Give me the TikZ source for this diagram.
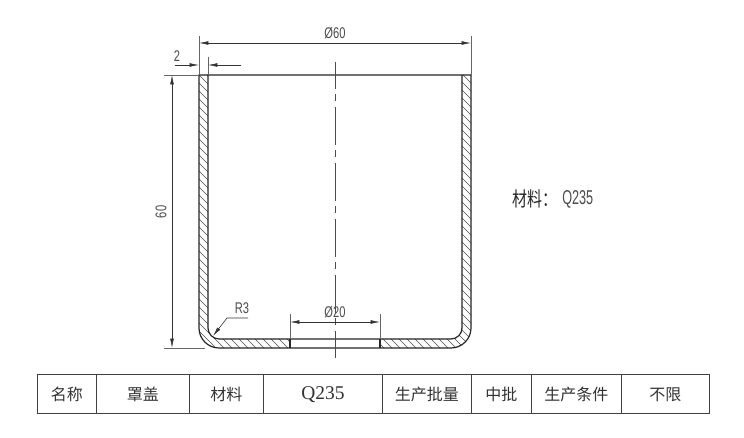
\documentclass[tikz,border=0pt]{standalone}
\usepackage{fontspec}
\usepackage{graphicx}
\setmainfont{Liberation Serif}
\newfontfamily\cjk{Noto Sans CJK SC}
\newfontfamily\cad{Liberation Sans}[FakeStretch=0.72]
\usetikzlibrary{arrows.meta}
\tikzset{
  x=0.75pt,y=-0.75pt,
  outline/.style={line width=0.9pt,black!85},
  thin line/.style={line width=0.45pt,black!80},
  dim/.style={thin line,{Latex[length=7pt,width=2.8pt]}-{Latex[length=7pt,width=2.8pt]}},
  dimout/.style={thin line,{Latex[length=7pt,width=2.8pt]}-},
  ext/.style={line width=0.55pt,black!60},
  center line/.style={line width=0.55pt,black!70,dash pattern=on 28.5pt off 4pt on 5pt off 4.5pt,dash phase=8.25pt},
  cell/.style={draw=black!75,line width=0.7pt,minimum height=29pt,inner sep=0pt,anchor=north west},
  cadtext/.style={font=\cad\fontsize{11.6pt}{12pt}\selectfont,text=black!70,inner sep=0pt},
  tabtext/.style={font=\cjk\fontsize{12pt}{13pt}\selectfont,text=black!80,inner sep=0pt}
}
\begin{document}
\begin{tikzpicture}
\useasboundingbox (0,0) rectangle (744,438);
\fill[white] (0,0) rectangle (744,438);
% hatched section
\begin{scope}
\clip (199,75) -- (199,328) .. controls (199,339) and (208,348) .. (219,348) -- (290,348) -- (290,339) -- (219,339) .. controls (213,339) and (208,334) .. (208,328) -- (208,75) -- cycle
      (471,75) -- (471,328) .. controls (471,339) and (462,348) .. (451,348) -- (380,348) -- (380,339) -- (451,339) .. controls (457,339) and (462,334) .. (462,328) -- (462,75) -- cycle;
  \foreach \k in {-320,-312,...,680} {
    \draw[line width=0.35pt,black!70] (\k+160,60) -- (\k+480,380);
  }
\end{scope}
% outlines
\draw[outline] (199,75) -- (199,328) .. controls (199,339) and (208,348) .. (219,348) -- (451,348) .. controls (462,348) and (471,339) .. (471,328) -- (471,75) -- cycle;
\draw[outline] (208,75) -- (208,328) .. controls (208,334) and (213,339) .. (219,339) -- (451,339) .. controls (457,339) and (462,334) .. (462,328) -- (462,75);
\draw[outline] (290,339) -- (290,348) (380,339) -- (380,348);
% centre line
\coordinate (ct) at (335,62); \coordinate (cb) at (335,358);
\draw[center line] (ct) -- (cb);
% extension lines
\coordinate (e1a) at (199,36); \coordinate (e1b) at (199,75);
\coordinate (e2a) at (471,36); \coordinate (e2b) at (471,75);
\coordinate (e3a) at (208,57); \coordinate (e3b) at (208,75);
\coordinate (e4a) at (164,75); \coordinate (e4b) at (199,75);
\coordinate (e5a) at (164,348); \coordinate (e5b) at (205,348);
\coordinate (e6a) at (290,314); \coordinate (e6b) at (290,339);
\coordinate (e7a) at (380,314); \coordinate (e7b) at (380,339);
\draw[ext] (e1a) -- (e1b) (e2a) -- (e2b) (e3a) -- (e3b) (e4a) -- (e4b) (e5a) -- (e5b) (e6a) -- (e6b) (e7a) -- (e7b);
% dimensions
\coordinate (d1a) at (199,43); \coordinate (d1b) at (471,43);
\draw[dim] (d1a) -- (d1b);
\node[cadtext] (t60d) at (335,33) {Ø60};
\coordinate (d2a) at (199,65); \coordinate (d2l) at (175,65);
\coordinate (d2b) at (208,65); \coordinate (d2r) at (241,65);
\draw[dimout] (d2a) -- (d2l);
\draw[dimout] (d2b) -- (d2r);
\node[cadtext] (t2) at (177,56) {2};
\coordinate (d3a) at (172,75); \coordinate (d3b) at (172,348);
\draw[dim] (d3a) -- (d3b);
\node[cadtext,rotate=90] (t60) at (161,212) {60};
\coordinate (d4a) at (290,322); \coordinate (d4b) at (380,322);
\draw[dim] (d4a) -- (d4b);
\node[cadtext] (t20) at (335,312) {Ø20};
\coordinate (l1) at (213,336); \coordinate (l2) at (227,318); \coordinate (l3) at (248,318);
\draw[thin line,{Latex[length=7pt,width=2.8pt]}-] (l1) -- (l2) -- (l3);
\node[cadtext] (tr3) at (242,308) {R3};
% material
\node[inner sep=0pt,anchor=west,text=black!85] (mat) at (512,199) {\scalebox{0.75}[1]{\cjk\fontsize{15pt}{16pt}\selectfont 材料：}};
\node[cadtext,anchor=west,font=\cad\fontsize{15pt}{16pt}\selectfont] (matq) at (562,199) {\scalebox{0.88}[1]{Q235}};
% table
\node[cell,minimum width=44.25pt] (c1) at (37,374.5) {};
\node[cell,minimum width=69.75pt] (c2) at (96,374.5) {};
\node[cell,minimum width=55.5pt] (c3) at (189,374.5) {};
\node[cell,minimum width=89.25pt] (c4) at (263,374.5) {};
\node[cell,minimum width=66.75pt] (c5) at (382,374.5) {};
\node[cell,minimum width=45pt] (c6) at (471,374.5) {};
\node[cell,minimum width=67.5pt] (c7) at (531,374.5) {};
\node[cell,minimum width=66pt] (c8) at (621,374.5) {};
\node[tabtext] at (c1.center) {名称};
\node[tabtext] at (c2.center) {罩盖};
\node[tabtext] at (c3.center) {材料};
\node[tabtext,font=\fontsize{14.6pt}{15pt}\selectfont] at (c4.center) {Q235};
\node[tabtext] at (c5.center) {生产批量};
\node[tabtext] at (c6.center) {中批};
\node[tabtext] at (c7.center) {生产条件};
\node[tabtext] at (c8.center) {不限};
\end{tikzpicture}
\end{document}
